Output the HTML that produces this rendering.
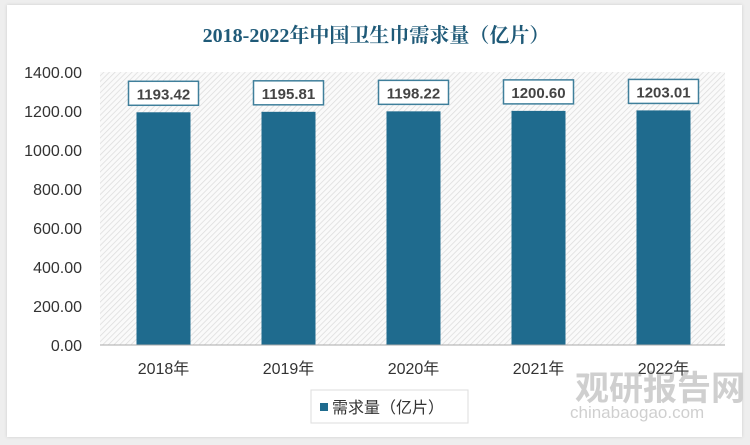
<!DOCTYPE html>
<html><head><meta charset="utf-8"><style>
body{margin:0;width:750px;height:445px;background:#eeeeee;overflow:hidden;font-family:"Liberation Sans","Noto Sans CJK SC",sans-serif}
#card{position:absolute;left:7px;top:5px;width:735px;height:432px;background:#fff;box-shadow:0 0 3px #ccc}
</style></head><body>
<div id="card"></div>
<svg id="chart" width="750" height="445" style="position:absolute;left:0;top:0">
<defs><pattern id="hatch" width="4" height="4" patternUnits="userSpaceOnUse" patternTransform="rotate(45)"><rect width="4" height="4" fill="#fafafa"/><line x1="0" y1="0" x2="0" y2="4" stroke="#dcdcdc" stroke-width="1.5"/></pattern></defs>
<text x="376" y="42" text-anchor="middle" font-family="'Liberation Serif','Noto Serif CJK SC',serif" font-weight="bold" font-size="20" fill="#1f5a78">2018-2022年中国卫生巾需求量（亿片）</text>
<rect x="100" y="72" width="625" height="273" fill="url(#hatch)"/>
<g id="yaxis"></g><g id="bars"></g><g id="xaxis"></g>
<line x1="100" y1="345" x2="725" y2="345" stroke="#aaa"/>
<g>
<rect x="311" y="390" width="157" height="33" fill="#fff" stroke="#ddd"/>
<rect x="320" y="403" width="8" height="8" fill="#1f6b8e"/>
<text x="332" y="413" font-size="16" fill="#333">需求量（亿片）</text>
</g>
<g opacity="0.35">
<text x="575" y="400" font-size="34" font-weight="bold" fill="#777">观研报告网</text>
<text x="570" y="418" font-size="17" fill="#777">chinabaogao.com</text>
</g>
</svg>
<script>
const categories=["2018年","2019年","2020年","2021年","2022年"];
const values=[1193.42,1195.81,1198.22,1200.60,1203.01];
const yTicks=[0,200,400,600,800,1000,1200,1400];
const ns="http://www.w3.org/2000/svg";
const x0=100,x1=725,y0=345,y1=72,ymax=1400;
const ys=v=>y0-(v/ymax)*(y0-y1);
const band=(x1-x0)/categories.length;
const xc=i=>x0+band*(i+0.5)+1;
function mk(t,a,p){const e=document.createElementNS(ns,t);for(const k in a)e.setAttribute(k,a[k]);p.appendChild(e);return e;}
const ya=document.getElementById('yaxis'),bg=document.getElementById('bars'),xa=document.getElementById('xaxis');
yTicks.forEach(v=>{const t=mk('text',{x:82,y:ys(v)+6,'text-anchor':'end','font-size':16,fill:'#333'},ya);t.textContent=v.toFixed(2);

});
categories.forEach((c,i)=>{const cx=xc(i),w=54;
const r=mk('rect',{x:cx-w/2,y:ys(values[i]),width:w,height:y0-ys(values[i]),fill:'#1f6b8e'},bg);


const by=ys(values[i])-31;
const b=mk('rect',{x:cx-35,y:by,width:70,height:24,fill:'#fff',stroke:'#3f7f9b','stroke-width':1.5},bg);


const t=mk('text',{x:cx,y:by+18,'text-anchor':'middle','font-size':15,'font-weight':'bold',fill:'#444'},bg);t.textContent=values[i].toFixed(2);


const l=mk('text',{x:cx,y:374,'text-anchor':'middle','font-size':16,fill:'#333'},xa);l.textContent=c;

});
</script>
</body></html>
